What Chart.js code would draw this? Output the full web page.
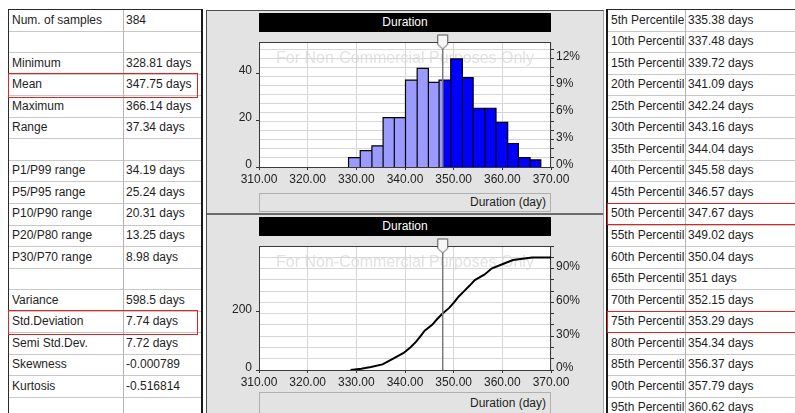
<!DOCTYPE html>
<html><head><meta charset="utf-8">
<script src="https://cdn.jsdelivr.net/npm/chart.js@4.4.1/dist/chart.umd.min.js"></script>
<style>
html,body{margin:0;padding:0;background:#fff;}
body{width:795px;height:413px;overflow:hidden;position:relative;font-family:"Liberation Sans",Arial,sans-serif;font-size:12px;color:#1e1e1e;}
.abs{position:absolute;box-sizing:border-box;}
.cell{position:absolute;white-space:nowrap;overflow:hidden;}
.title{background:#000;color:#fff;text-align:center;}
.axbox{border:1px solid #b0b0b0;background:#e3e3e3;text-align:right;padding-right:4px;}
.red{border:1px solid #e02424;z-index:5;}
canvas{position:absolute;}
</style>
</head><body>
<div id="root"></div>
<canvas id="hist" width="385" height="160" style="left:215px;top:30px"></canvas>
<canvas id="cum" width="385" height="159" style="left:215px;top:234px"></canvas>
<script>
// ---------- data ----------
const leftLabels = ["Num. of samples","","Minimum","Mean","Maximum","Range","","P1/P99 range","P5/P95 range","P10/P90 range","P20/P80 range","P30/P70 range","","Variance","Std.Deviation","Semi Std.Dev.","Skewness","Kurtosis",""];
const leftValues = ["384","","328.81 days","347.75 days","366.14 days","37.34 days","","34.19 days","25.24 days","20.31 days","13.25 days","8.98 days","","598.5 days","7.74 days","7.72 days","-0.000789","-0.516814",""];
const rightLabels = ["5th Percentile","10th Percentile","15th Percentile","20th Percentile","25th Percentile","30th Percentile","35th Percentile","40th Percentile","45th Percentile","50th Percentile","55th Percentile","60th Percentile","65th Percentile","70th Percentile","75th Percentile","80th Percentile","85th Percentile","90th Percentile","95th Percentile"];
const rightValues = ["335.38 days","337.48 days","339.72 days","341.09 days","342.24 days","343.16 days","344.04 days","345.58 days","346.57 days","347.67 days","349.02 days","350.04 days","351 days","352.15 days","353.29 days","354.34 days","356.37 days","357.79 days","360.62 days"];
const leftHighlight = [3, 14];
const rightHighlight = [9, 14];

const chartTitle = "Duration";
const axisTitle = "Duration (day)";
const watermark = "For Non-Commercial Purposes Only";
const nSamples = 384;
const meanValue = 347.75;

const binEdges = [328.4, 330.8, 333.2, 335.5, 337.8, 340.1, 342.5, 344.8, 347.0, 349.4, 351.8, 354.0, 356.4, 358.7, 361.1, 363.3, 365.7, 367.9];
const binCounts = [4, 7, 9, 21, 21, 37, 42, 36, 37, 46, 38, 25, 25, 19, 10, 4, 3];

const cdfX = [328.81, 331.0, 333.0, 335.38, 337.48, 339.72, 341.09, 342.24, 343.16, 344.04, 345.58, 346.57, 347.67, 349.02, 350.04, 351.0, 352.15, 353.29, 354.34, 356.37, 357.79, 360.62, 362.2, 366.14, 370.0];
const cdfY = [0, 4, 10, 19, 38, 58, 77, 96, 115, 134, 154, 173, 192, 211, 230, 250, 269, 288, 307, 326, 346, 365, 375, 384, 384];

const xTicks = [310, 320, 330, 340, 350, 360, 370];
const histCountTicks = [0, 20, 40];
const histPctTicks = [0,1,2,3,4,5,6,7,8,9,10,11,12,13];
const histPctLabels = [0, 3, 6, 9, 12];
const cumCountTicks = [0, 200];
const cumPctTicks = [0,10,20,30,40,50,60,70,80,90,100,110];
const cumPctLabels = [0, 30, 60, 90];
const histMax = 53.2, cumMax = 423;

// ---------- page furniture ----------
const root = document.getElementById('root');
function el(css, cls, txt){ const d=document.createElement('div'); d.className='abs '+(cls||''); d.style.cssText=css; if(txt!==undefined) d.textContent=txt; root.appendChild(d); return d; }
const ROW_H = 21.55, ROW0 = 9.5;
function table(x0, colX, x1, labels, values, hl, redRight, redDy, redH){
  for(let i=0;i<labels.length;i++){
    const top = ROW0 + i*ROW_H;
    el(`left:${x0}px;top:${Math.floor(top+ROW_H)}px;width:${x1-x0}px;height:1px;background:#c8c8c8`);
    el(`left:${x0+4}px;top:${top}px;width:${colX-x0-5}px;height:${ROW_H}px;line-height:${ROW_H}px`, 'cell', labels[i]);
    el(`left:${colX+3}px;top:${top}px;width:${x1-colX-4}px;height:${ROW_H}px;line-height:${ROW_H}px`, 'cell', values[i]);
  }
  el(`left:${colX}px;top:9px;width:1px;height:404px;background:#b4b4b4`);
  el(`left:${x0}px;top:9px;width:${x1-x0}px;height:1px;background:#2a2a2a`);
  hl.forEach(i=>{
    const top = Math.floor(ROW0 + i*ROW_H) + redDy;
    el(`left:${x0}px;top:${top}px;width:${redRight-x0}px;height:${redH}px`, 'red');
  });
}
table(8, 123, 201, leftLabels, leftValues, leftHighlight, 198, -1, 25);
el('left:8px;top:9px;width:1px;height:404px;background:#2a2a2a');
el('left:201px;top:9px;width:2px;height:404px;background:#1a1a1a');
table(607, 685, 800, rightLabels, rightValues, rightHighlight, 800, 0, 22);
el('left:606px;top:9px;width:2px;height:404px;background:#1a1a1a');

el('left:206px;top:10px;width:398px;height:410px;background:#e3e3e3;border-left:1px solid #505050;border-top:1px solid #505050;border-right:1px solid #a8a8a8');
el('left:207px;top:213px;width:396px;height:2px;background:#6a6a6a');
el('left:259px;top:13px;width:292px;height:19px;line-height:19px', 'title', chartTitle);
el('left:259px;top:217px;width:292px;height:19px;line-height:19px', 'title', chartTitle);
el('left:259px;top:193px;width:292px;height:19px;line-height:17px', 'axbox', axisTitle);
el('left:259px;top:392px;width:292px;height:24px;line-height:20px', 'axbox', axisTitle);
document.querySelectorAll('canvas').forEach(c=>document.body.appendChild(c));

// ---------- chart helpers ----------
Chart.defaults.font.family = '"Liberation Sans", Arial, sans-serif';
Chart.defaults.font.size = 12;
Chart.defaults.color = '#222';

const marker = document.createElement('canvas');
marker.width = 13; marker.height = 17;
(function(){
  const c = marker.getContext('2d');
  c.beginPath(); c.moveTo(1.5,1.5); c.lineTo(11.5,1.5); c.lineTo(11.5,11); c.lineTo(6.5,15.5); c.lineTo(1.5,11); c.closePath();
  c.fillStyle = '#f6f6f6'; c.fill(); c.strokeStyle = '#555'; c.lineWidth = 1; c.stroke();
})();

const framePlugin = {
  id: 'frame',
  beforeDraw(chart){
    const {ctx, chartArea:a} = chart;
    ctx.save();
    ctx.fillStyle = '#fff';
    ctx.fillRect(a.left, a.top, a.right-a.left, a.bottom-a.top);
    ctx.font = '16px "Liberation Sans", Arial, sans-serif';
    ctx.fillStyle = '#e2e2e2';
    ctx.textAlign = 'center'; ctx.textBaseline = 'middle';
    ctx.fillText(watermark, (a.left+a.right)/2, a.top+17);
    ctx.restore();
  },
  beforeDatasetsDraw(chart){
    const {ctx, chartArea:a} = chart;
    ctx.save();
    ctx.strokeStyle = '#3a3a3a'; ctx.lineWidth = 1;
    ctx.strokeRect(a.left+0.5, a.top+0.5, a.right-a.left-1, a.bottom-a.top);
    ctx.restore();
  }
};

function scales(yMax, countTicks, pctTicks, pctLabels){
  return {
    x: { type:'linear', min:310, max:370,
      afterBuildTicks: s => { s.ticks = xTicks.map(v=>({value:v})); },
      afterFit: s => { s.height = 23; },
      border:{display:false},
      grid:{ color:'#d6d6d6', tickColor:'#333', tickLength:3 },
      ticks:{ padding:2, maxRotation:0, autoSkip:false, callback: v => v.toFixed(2) } },
    y: { type:'linear', position:'left', min:0, max:yMax,
      afterBuildTicks: s => { s.ticks = countTicks.map(v=>({value:v})); },
      afterFit: s => { s.width = 44; },
      border:{display:false},
      grid:{ drawOnChartArea:false, tickColor:'#333', tickLength:3 },
      ticks:{ autoSkip:false, padding:4, labelOffset:-2, callback: v => String(v) } },
    y2: { type:'linear', position:'right', min:0, max:yMax/nSamples*100,
      afterBuildTicks: s => { s.ticks = pctTicks.map(v=>({value:v})); },
      afterFit: s => { s.width = 49; },
      border:{display:false},
      grid:{ color:'#d6d6d6', tickColor:'#333', tickLength:3 },
      ticks:{ autoSkip:false, padding:2, labelOffset:-2,
        callback: v => pctLabels.includes(v) ? v+'%' : '' } }
  };
}
function commonOpts(yMax, countTicks, pctTicks, pctLabels){
  return {
    responsive:false, animation:false, events:[],
    layout:{ padding:{ top:12, left:0, right:0, bottom:0 } },
    plugins:{ legend:{display:false}, tooltip:{enabled:false} },
    scales: scales(yMax, countTicks, pctTicks, pctLabels)
  };
}
function meanSets(yMax){
  return [
    { data:[{x:meanValue,y:yMax}], showLine:false, pointStyle:marker, pointRadius:6, clip:false, order:0 },
    { data:[{x:meanValue,y:0},{x:meanValue,y:yMax}], showLine:true, borderColor:'#7a7a7a', borderWidth:1.5, pointRadius:0, order:1 }
  ];
}

// ---------- histogram ----------
const lightPts = [{x:binEdges[0], y:0}];
const darkPts = [];
for(let i=0;i<binCounts.length;i++){
  const l = binEdges[i], r = binEdges[i+1], h = binCounts[i];
  if(r <= meanValue){
    lightPts.push({x:l,y:h},{x:r,y:h},{x:r,y:0});
  } else if(l < meanValue){
    lightPts.push({x:l,y:h},{x:meanValue,y:h});
    darkPts.push({x:meanValue,y:h},{x:r,y:h},{x:r,y:0});
  } else {
    darkPts.push({x:l,y:h},{x:r,y:h},{x:r,y:0});
  }
}
new Chart(document.getElementById('hist'), {
  type:'scatter',
  data:{ datasets:[
    ...meanSets(histMax),
    { data:lightPts, showLine:true, fill:'origin', backgroundColor:'#9b9bff', borderColor:'#000', borderWidth:1.2, pointRadius:0, order:2 },
    { data:darkPts, showLine:true, fill:'origin', backgroundColor:'#0000ff', borderColor:'#000', borderWidth:1.2, pointRadius:0, order:3 }
  ]},
  options: commonOpts(histMax, histCountTicks, histPctTicks, histPctLabels),
  plugins:[framePlugin]
});

// ---------- cumulative ----------
new Chart(document.getElementById('cum'), {
  type:'scatter',
  data:{ datasets:[
    ...meanSets(cumMax),
    { data: cdfX.map((x,i)=>({x, y:cdfY[i]})), showLine:true, borderColor:'#000', borderWidth:2, pointRadius:0, order:2 }
  ]},
  options: commonOpts(cumMax, cumCountTicks, cumPctTicks, cumPctLabels),
  plugins:[framePlugin]
});
</script>
</body></html>
